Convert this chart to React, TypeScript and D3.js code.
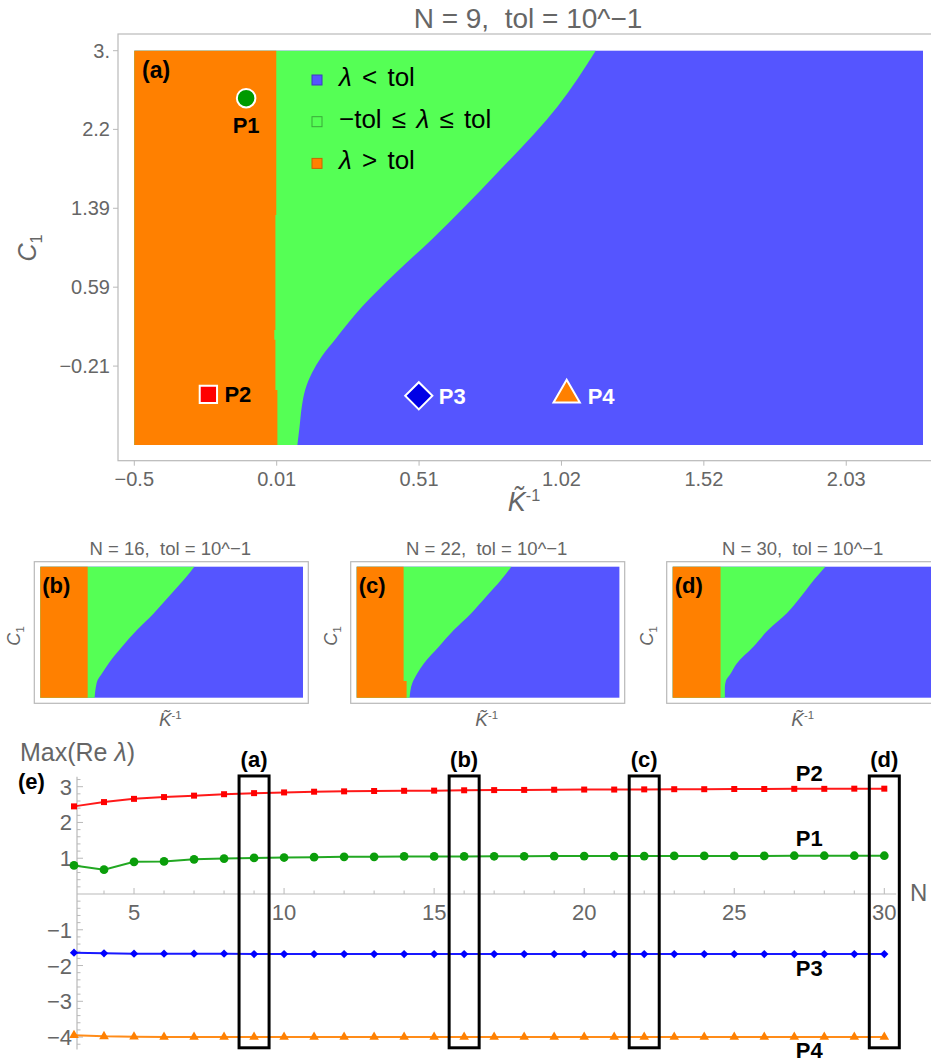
import * as d3 from "d3"

const FONT = "'Liberation Sans', Arial, Helvetica, sans-serif"
const GRAY = "#666666"
const AXIS = "#b9b9b9"

const ORANGE = "#ff8000"
const GREEN = "#55ff55"
const BLUE = "#5555ff"

// shared K^-1 / C1 ranges of the stability maps
const kDomain = [-0.5, 2.3]
const c1Domain = [-1.01, 3.0]
const kTicks = [-0.5, 0.0055, 0.511, 1.0165, 1.522, 2.0275]
const kTickLabels = ["−0.5", "0.01", "0.51", "1.02", "1.52", "2.03"]
const c1Ticks = [-0.2075, 0.595, 1.3975, 2.2, 3.0]
const c1TickLabels = ["−0.21", "0.59", "1.39", "2.2", "3."]

// green / blue boundary (K^-1 at each C1)
const c1N9 = [3.0, 2.43, 1.755, 1.078, 0.74, 0.4, 0.063, -0.107, -0.275, -0.445, -0.614, -0.817, -1.01]
const edgeN9 = [1.138, 1.002, 0.788, 0.555, 0.428, 0.31, 0.213, 0.166, 0.131, 0.107, 0.095, 0.087, 0.079]
const c1N16 = [3.0, 2.59, 2.08, 1.57, 1.06, 0.55, 0.04, -0.27, -0.47, -0.67, -1.01]
const edgeN16 = [1.142, 1.028, 0.868, 0.708, 0.53, 0.371, 0.228, 0.157, 0.111, 0.093, 0.079]
const c1N22 = [3.0, 2.59, 2.08, 1.57, 1.06, 0.55, 0.04, -0.27, -0.57, -1.01]
const edgeN22 = [1.148, 1.038, 0.879, 0.719, 0.535, 0.375, 0.216, 0.145, 0.092, 0.064]
const c1N30 = [3.0, 2.62, 2.1, 1.58, 1.06, 0.54, 0.03, -0.28, -0.49, -0.7, -1.01]
const edgeN30 = [1.127, 1.013, 0.872, 0.719, 0.517, 0.357, 0.181, 0.117, 0.067, 0.056, 0.056]

// orange / green boundary
const oc1N9 = [3.0, 1.33, 1.33, 0.16, 0.16, 0.06, 0.06, -0.45, -0.45, -1.01]
const okN9 = [0.004, 0.004, 0.001, 0.001, -0.003, -0.003, 0.001, 0.001, 0.008, 0.008]
const oc1N16 = [3.0, -1.01]
const okN16 = [0.005, 0.005]
const oc1N22 = [3.0, -0.5, -0.5, -1.01]
const okN22 = [0.0, 0.0, 0.032, 0.032]
const oc1N30 = [3.0, -1.01]
const okN30 = [0.01, 0.01]

// reference points in panel (a)
const pointNames = ["P1", "P2", "P3", "P4"]
const pointK = [-0.103, -0.237, 0.51, 1.035]
const pointC1 = [2.517, -0.496, -0.51, -0.5]

// panel (e)
const nValues = d3.range(3, 31)
const p2Values = [2.45, 2.57, 2.66, 2.71, 2.75, 2.79, 2.82, 2.84, 2.86, 2.87, 2.88, 2.885, 2.89, 2.9, 2.905, 2.91, 2.915, 2.92, 2.92, 2.925, 2.93, 2.93, 2.935, 2.935, 2.94, 2.94, 2.945, 2.945]
const p1Values = [0.8, 0.68, 0.9, 0.91, 0.97, 0.99, 1.01, 1.02, 1.03, 1.04, 1.04, 1.05, 1.05, 1.05, 1.055, 1.055, 1.06, 1.06, 1.06, 1.06, 1.065, 1.065, 1.065, 1.065, 1.07, 1.07, 1.07, 1.07]
const p3Values = [-1.64, -1.66, -1.67, -1.67, -1.67, -1.67, -1.68, -1.68, -1.68, -1.68, -1.68, -1.68, -1.68, -1.68, -1.68, -1.68, -1.68, -1.68, -1.68, -1.68, -1.68, -1.68, -1.68, -1.68, -1.68, -1.68, -1.68, -1.68]
const p4Values = [-3.95, -3.98, -3.99, -4.0, -4.0, -4.0, -4.0, -4.0, -4.0, -4.0, -4.0, -4.0, -4.0, -4.0, -4.0, -4.0, -4.0, -4.0, -4.0, -4.0, -4.0, -4.0, -4.0, -4.0, -4.0, -4.0, -4.0, -4.0]
const boxN = [9, 16, 22, 30]
const boxLetters = ["(a)", "(b)", "(c)", "(d)"]
const yTicksE = [-4, -3, -2, -1, 1, 2, 3]
const xTicksE = [5, 10, 15, 20, 25, 30]

type Box = { x0: number; x1: number; y0: number; y1: number }

const KLabel = ({ x, y, size }: { x: number; y: number; size: number }) => (
  <text x={x} y={y} fill={GRAY} fontSize={size} fontFamily={FONT} textAnchor="middle">
    <tspan fontStyle="italic">K̃</tspan>
    <tspan fontSize={size * 0.6} dy={-size * 0.38}>-1</tspan>
  </text>
)

const C1Label = ({ x, y, size }: { x: number; y: number; size: number }) => (
  <text transform={`translate(${x},${y}) rotate(-90)`} fill={GRAY} fontSize={size} fontFamily={FONT} textAnchor="middle">
    <tspan fontStyle="italic">C</tspan>
    <tspan fontSize={size * 0.65} dy={size * 0.22}>1</tspan>
  </text>
)

// rotated square, as Mathematica draws its diamond markers
const diamond = (size: number) => d3.symbol().type(d3.symbolSquare).size(size)() || ""

function StabilityMap({ plot, c1, edge, oc1, ok }: { plot: Box; c1: number[]; edge: number[]; oc1: number[]; ok: number[] }) {
  const x = d3.scaleLinear().domain(kDomain).range([plot.x0, plot.x1])
  const y = d3.scaleLinear().domain(c1Domain).range([plot.y1, plot.y0])
  const green = d3
    .area<number>()
    .curve(d3.curveMonotoneY)
    .y((_, i) => y(c1[i]))
    .x0(x(kDomain[0]))
    .x1((d) => x(d))(edge)
  const orange = d3
    .area<number>()
    .y((_, i) => y(oc1[i]))
    .x0(x(kDomain[0]))
    .x1((d) => x(d))(ok)
  return (
    <g>
      <rect x={x(kDomain[0])} y={y(c1Domain[1])} width={x(kDomain[1]) - x(kDomain[0])} height={y(c1Domain[0]) - y(c1Domain[1])} fill={BLUE} />
      <path d={green || ""} fill={GREEN} />
      <path d={orange || ""} fill={ORANGE} />
    </g>
  )
}

function MainPanel() {
  const plot = { x0: 134.3, x1: 923, y0: 50.7, y1: 445 }
  const x = d3.scaleLinear().domain(kDomain).range([plot.x0, plot.x1])
  const y = d3.scaleLinear().domain(c1Domain).range([plot.y1, plot.y0])
  const frame = { x: 118, y: 34, w: 830, h: 426.7 }
  const legend = [
    { fill: BLUE, stroke: "#3c3cc0", text: "< tol", pre: "" },
    { fill: GREEN, stroke: "#3aaa3a", text: "≤ tol", pre: "−tol ≤ " },
    { fill: ORANGE, stroke: "#c86400", text: "> tol", pre: "" },
  ]
  const markerFill = ["#009a00", "#ff0000", "#0000e6", "#ff8000"]
  const markerPath = [
    d3.symbol().type(d3.symbolCircle).size(270)() || "",
    d3.symbol().type(d3.symbolSquare).size(300)() || "",
    diamond(370),
    d3.symbol().type(d3.symbolTriangle).size(300)() || "",
  ]
  return (
    <g>
      <text x={528} y={28} fill={GRAY} fontSize={28} fontFamily={FONT} textAnchor="middle" style={{ whiteSpace: "pre" }}>
        {"N = 9,  tol = 10^−1"}
      </text>
      <StabilityMap plot={plot} c1={c1N9} edge={edgeN9} oc1={oc1N9} ok={okN9} />
      <rect x={frame.x} y={frame.y} width={frame.w} height={frame.h} fill="none" stroke={AXIS} strokeWidth={1.2} />
      {c1Ticks.map((t, i) => (
        <g key={"cy" + i}>
          <line x1={frame.x - 5} x2={frame.x} y1={y(t)} y2={y(t)} stroke={AXIS} />
          <text x={frame.x - 8} y={y(t) + 7} fill={GRAY} fontSize={20} fontFamily={FONT} textAnchor="end">
            {c1TickLabels[i]}
          </text>
        </g>
      ))}
      {kTicks.map((t, i) => (
        <g key={"kx" + i}>
          <line x1={x(t)} x2={x(t)} y1={frame.y + frame.h} y2={frame.y + frame.h + 5} stroke={AXIS} />
          <text x={x(t)} y={486} fill={GRAY} fontSize={20} fontFamily={FONT} textAnchor="middle">
            {kTickLabels[i]}
          </text>
        </g>
      ))}
      <KLabel x={524} y={511} size={27} />
      <C1Label x={36} y={248} size={25} />
      <text x={142} y={78} fontSize={23} fontWeight="bold" fontFamily={FONT}>(a)</text>
      {legend.map((l, i) => (
        <g key={"lg" + i}>
          <rect x={312} y={75 + i * 41.7} width={10} height={10} fill={l.fill} stroke={l.stroke} strokeWidth={1} />
          <text x={339} y={86 + i * 41.7} fontSize={26} fontFamily={FONT} fill="#000" wordSpacing={3} style={{ whiteSpace: "pre" }}>
            {l.pre}
            <tspan fontStyle="italic">λ</tspan>
            {" " + l.text}
          </text>
        </g>
      ))}
      {pointNames.map((name, i) => (
        <path
          key={name}
          transform={`translate(${x(pointK[i])},${y(pointC1[i])})${i === 2 ? " rotate(45)" : ""}`}
          d={markerPath[i]}
          fill={markerFill[i]}
          stroke="#fff"
          strokeWidth={2}
        />
      ))}
      <text x={x(pointK[0])} y={y(pointC1[0]) + 35} fontSize={22} fontWeight="bold" fontFamily={FONT} textAnchor="middle">P1</text>
      <text x={x(pointK[1]) + 16} y={y(pointC1[1]) + 8} fontSize={22} fontWeight="bold" fontFamily={FONT}>P2</text>
      <text x={x(pointK[2]) + 20} y={y(pointC1[2]) + 8} fontSize={22} fontWeight="bold" fontFamily={FONT} fill="#fff">P3</text>
      <text x={x(pointK[3]) + 21} y={y(pointC1[3]) + 9} fontSize={22} fontWeight="bold" fontFamily={FONT} fill="#fff">P4</text>
    </g>
  )
}

function SmallPanel(props: { n: number; letter: string; ox: number; c1: number[]; edge: number[]; oc1: number[]; ok: number[] }) {
  const { n, letter, ox } = props
  const plot = { x0: ox + 6, x1: ox + 268.7, y0: 566.7, y1: 697.7 }
  const cx = ox + 136
  return (
    <g>
      <text x={cx} y={555} fill={GRAY} fontSize={18.5} fontFamily={FONT} textAnchor="middle" style={{ whiteSpace: "pre" }}>
        {`N = ${n},  tol = 10^−1`}
      </text>
      <StabilityMap plot={plot} c1={props.c1} edge={props.edge} oc1={props.oc1} ok={props.ok} />
      <rect x={ox} y={561.7} width={274} height={141.6} fill="none" stroke={AXIS} strokeWidth={1.2} />
      <text x={ox + 8} y={593} fontSize={22} fontWeight="bold" fontFamily={FONT}>{letter}</text>
      <C1Label x={ox - 14} y={636} size={18} />
      <KLabel x={cx} y={726} size={19} />
    </g>
  )
}

function SeriesPanel() {
  const x = d3.scaleLinear().domain([3, 30]).range([74, 884.3])
  const y = d3.scaleLinear().domain([0, 3]).range([894, 786.7])
  const axisX = x(3.1)
  const series = [
    { v: p2Values, color: "#ff0000", path: d3.symbol().type(d3.symbolSquare).size(36)() || "", rot: 0 },
    { v: p1Values, color: "#0a9e0a", path: d3.symbol().type(d3.symbolCircle).size(60)() || "", rot: 0 },
    { v: p3Values, color: "#0000ff", path: diamond(34), rot: 45 },
    { v: p4Values, color: "#ff8000", path: d3.symbol().type(d3.symbolTriangle).size(40)() || "", rot: 0 },
  ]
  const seriesNames = ["P2", "P1", "P3", "P4"]
  const nameY = [3.38, 1.57, -2.07, -4.36]
  const minorY = d3.range(-4.2, 3.3, 0.2).filter((v) => Math.abs(v - Math.round(v)) > 0.05)
  const minorX = d3.range(4, 31).filter((v) => v % 5 !== 0)
  const line = d3
    .line<number>()
    .x((_, i) => x(nValues[i]))
    .y((d) => y(d))
  return (
    <g>
      {/* axes */}
      <line x1={axisX} x2={axisX} y1={y(3.28)} y2={y(-4.35)} stroke={AXIS} strokeWidth={1.2} />
      <line x1={axisX} x2={x(30.4)} y1={y(0)} y2={y(0)} stroke={AXIS} strokeWidth={1.2} />
      {yTicksE.map((t) => (
        <g key={"ye" + t}>
          <line x1={axisX} x2={axisX + 6} y1={y(t)} y2={y(t)} stroke={AXIS} />
          <text x={72} y={y(t) + 8} fill={GRAY} fontSize={22} fontFamily={FONT} textAnchor="end">
            {t < 0 ? "−" + Math.abs(t) : String(t)}
          </text>
        </g>
      ))}
      {minorY.map((t, i) => (
        <line key={"my" + i} x1={axisX} x2={axisX + 3.5} y1={y(t)} y2={y(t)} stroke={AXIS} />
      ))}
      {xTicksE.map((t) => (
        <g key={"xe" + t}>
          <line x1={x(t)} x2={x(t)} y1={y(0)} y2={y(0) - 6} stroke={AXIS} />
          <text x={x(t)} y={920} fill={GRAY} fontSize={22} fontFamily={FONT} textAnchor="middle">
            {t}
          </text>
        </g>
      ))}
      {minorX.map((t) => (
        <line key={"mx" + t} x1={x(t)} x2={x(t)} y1={y(0)} y2={y(0) - 3.5} stroke={AXIS} />
      ))}
      <text x={910} y={901} fill={GRAY} fontSize={24} fontFamily={FONT}>N</text>
      <text x={20} y={761} fill={GRAY} fontSize={25} fontFamily={FONT}>
        Max(Re <tspan fontStyle="italic">λ</tspan>)
      </text>
      <text x={18} y={789} fontSize={22} fontWeight="bold" fontFamily={FONT}>(e)</text>
      {/* series */}
      {series.map((s, k) => (
        <g key={"s" + k}>
          <path d={line(s.v) || ""} fill="none" stroke={s.color} strokeWidth={2} strokeOpacity={0.9} />
          {s.v.map((v, i) => (
            <path key={i} transform={`translate(${x(nValues[i])},${y(v)}) rotate(${s.rot})`} d={s.path} fill={s.color} />
          ))}
          <text x={x(27.5)} y={y(nameY[k]) + 8} fontSize={22} fontWeight="bold" fontFamily={FONT} textAnchor="middle">
            {seriesNames[k]}
          </text>
        </g>
      ))}
      {/* highlighted N */}
      {boxN.map((n, i) => (
        <g key={"b" + n}>
          <rect x={x(n - 0.5)} y={y(3.3)} width={x(n + 0.5) - x(n - 0.5)} height={y(-4.3) - y(3.3)} fill="none" stroke="#000" strokeWidth={3} />
          <text x={x(n)} y={767} fontSize={22} fontWeight="bold" fontFamily={FONT} textAnchor="middle">
            {boxLetters[i]}
          </text>
        </g>
      ))}
    </g>
  )
}

export default function App() {
  return (
    <svg width={931} height={1064} style={{ position: "absolute", left: 0, top: 0, background: "#fff" }}>
      <rect width={931} height={1064} fill="#fff" />
      <MainPanel />
      <SmallPanel n={16} letter="(b)" ox={34.3} c1={c1N16} edge={edgeN16} oc1={oc1N16} ok={okN16} />
      <SmallPanel n={22} letter="(c)" ox={350.7} c1={c1N22} edge={edgeN22} oc1={oc1N22} ok={okN22} />
      <SmallPanel n={30} letter="(d)" ox={666.7} c1={c1N30} edge={edgeN30} oc1={oc1N30} ok={okN30} />
      <SeriesPanel />
    </svg>
  )
}
